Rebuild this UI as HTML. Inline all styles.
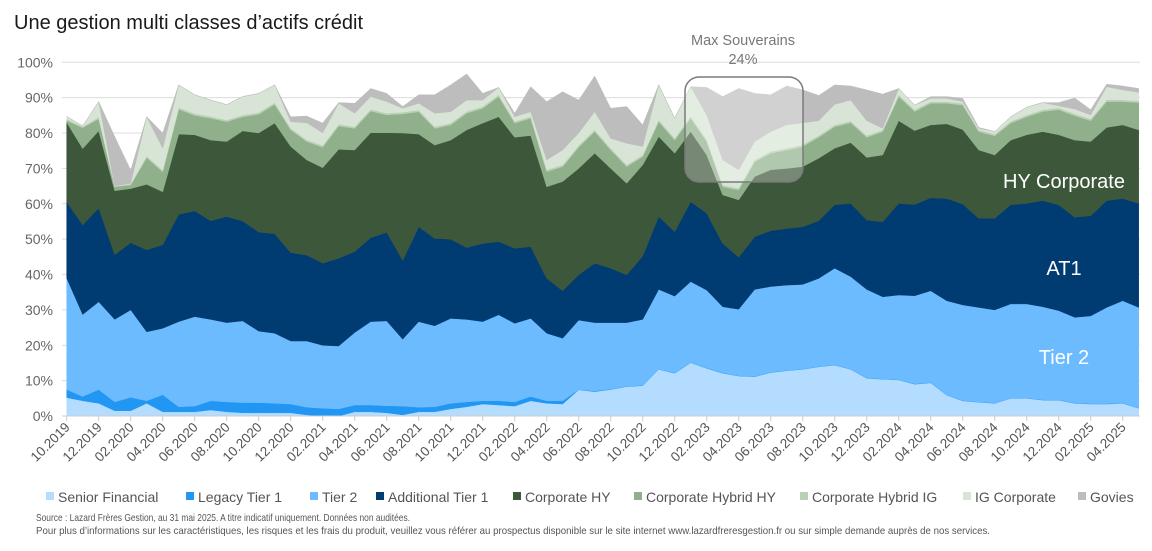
<!DOCTYPE html>
<html><head><meta charset="utf-8"><style>
body{margin:0;background:#fff;}
svg{display:block;font-family:"Liberation Sans",sans-serif;}
</style></head><body>
<svg id="chart" width="1152" height="551" viewBox="0 0 1152 551" xmlns="http://www.w3.org/2000/svg">
<text x="14" y="29" font-size="20" fill="#1a1a1a">Une gestion multi classes d’actifs crédit</text>
<g id="grid"></g>
<g id="areas"></g>
<g id="xaxis"></g>
<g id="ann"></g>
<g id="legend"></g>
<text x="36" y="521" font-size="10.5" fill="#555" textLength="374" lengthAdjust="spacingAndGlyphs">Source : Lazard Frères Gestion, au 31 mai 2025. A titre indicatif uniquement. Données non auditées.</text>
<text x="36" y="534" font-size="10.5" fill="#555" textLength="954" lengthAdjust="spacingAndGlyphs">Pour plus d’informations sur les caractéristiques, les risques et les frais du produit, veuillez vous référer au prospectus disponible sur le site internet www.lazardfreresgestion.fr ou sur simple demande auprès de nos services.</text>
</svg>
<script>
const months = [];
for (let y = 2019, m = 10; !(y === 2025 && m === 6); ) { months.push(String(m).padStart(2,'0') + '.' + y); m++; if (m > 12) { m = 1; y++; } }
const yTicks = [0,10,20,30,40,50,60,70,80,90,100];
const seniorFinancial = [5.2,4.3,3.6,1.5,1.5,3.6,1.2,1.2,1.2,1.7,1.2,0.9,0.9,0.9,0.9,0.3,0,0,1.2,1.2,0.9,0.3,1.2,1.2,2,2.6,3.4,3.1,2.8,4.3,3.6,3.4,7.4,6.9,7.5,8.3,8.6,13.2,12.1,15.1,13.5,12.1,11.3,11.1,12.3,12.8,13.2,13.9,14.4,13.2,10.7,10.4,10.2,9,9.4,5.9,4.3,3.9,3.6,5,5,4.5,4.5,3.6,3.4,3.4,3.6,2.2];
const legacyTier1 = [2.3,1.2,3.9,2.5,3.8,0.7,4.8,1.4,1.6,2.6,2.8,2.9,2.9,2.7,2.5,2.2,2.2,2,1.9,1.9,2,2.5,1.3,1.4,1.6,1.4,0.9,1.2,1.2,1.2,0.7,0.9,0.1,0.2,0.1,0.1,0.1,0.1,0.1,0.1,0.1,0.1,0.1,0.1,0.1,0.1,0.1,0.1,0.1,0.1,0.1,0.1,0.1,0.1,0.1,0.1,0.1,0.1,0.1,0.1,0.1,0.1,0.1,0.1,0.1,0.1,0.1,0.1];
const tier2 = [31.5,23.2,24.8,23.3,24.7,19.5,18.8,24.1,25.3,23,22.4,23.1,20.2,19.8,17.8,18.7,17.8,17.8,20.5,23.6,24,18.9,24.2,22.9,24,23.3,22.4,24.3,22.2,22.1,19.1,17.7,19.6,19.3,18.8,18,18.6,22.5,21.7,22.8,22,18.7,18.8,24.6,24.2,24.1,23.9,24.9,27.3,26.1,25,23.2,23.9,24.9,25.9,26.6,27,26.7,26.3,26.6,26.6,26.3,25.2,24.2,24.8,27.2,28.9,28.4];
const additionalTier1 = [21.5,25.3,26.5,18.3,19,23.2,23.6,30.3,29.9,27.9,30,28.2,28,28.1,25,24.3,23.2,24.8,22.9,23.7,25,22.3,26.8,24.7,22.4,20.3,22.1,20.7,21.2,20.3,15.5,13.4,12.8,16.8,15.4,13.5,17.9,20.6,18.2,22.6,21.7,17.9,14.7,14.9,15.8,16,16.3,16.3,17.9,20.7,19.6,21.2,25.9,25.8,26.3,28.9,28.5,25.2,25.9,28,28.4,30,29.9,28.3,28.3,30.2,28.9,29.4];
const corporateHY = [22.5,21.6,21.8,18.1,15.3,18.5,15,22.7,21.5,22.8,21.2,25.5,28,31.3,30,26.9,27,30.8,28.7,29.7,28.2,36,26.2,26.4,28,33.3,34,35.3,31.4,31.4,25.9,30.9,30.1,31.1,28.2,25.9,25.8,22.6,22.2,19.8,16.5,13.7,16.2,17,17.2,17,17,17.7,16,17.2,17.7,18.9,23.4,20.9,20.6,21.1,21.1,19.3,17.9,18.3,19.4,19.5,19.8,21.8,21,20.7,20.8,20.8];
const corporateHybridHY = [0.5,5.9,3.4,1.1,1,7.5,5.6,7,5.5,6.2,5.6,4,5.3,5.3,4.7,5.2,5.8,6.6,6.1,6.1,5,5.4,6.3,4.7,4.3,4.7,4.2,5.7,4,4.9,4.3,4.2,6,6.1,5.2,4.7,2.3,4.2,3.7,3.8,3.8,2.3,2.8,4.2,4.7,5.2,5.7,5.9,6.1,5.6,5.7,6.6,6.8,5.4,6.1,5.8,6.9,5.2,5.4,4.8,5.1,5.7,7.1,6.9,5.9,7.3,6.6,7.7];
const corporateHybridIG = [0.5,0.3,0.5,0.1,0.3,0.5,0.5,0.5,0.5,0.5,0.5,0.5,0.5,0.5,0.5,0.5,0.5,0.5,0.5,0.5,0.5,0.5,0.5,0.5,0.5,0.5,0.5,0.5,0.5,0.5,0.5,0.5,0.5,0.5,0.5,0.5,0.5,0.5,0.5,0.5,0.5,0.5,0.5,0.5,0.5,0.5,0.5,0.5,0.5,0.5,0.5,0.5,0.5,0.5,0.5,0.5,0.5,0.5,0.5,0.5,0.5,0.5,0.5,0.5,0.5,0.5,0.5,0.5];
const igCorporate = [0.7,0.2,4.4,0.1,0.2,11.1,6.2,6.4,5.3,4.6,4.3,5.2,5.4,5,1.8,4.8,3.5,5.9,3.8,3.6,3.3,1.1,1.9,3.8,3.2,3.2,1.8,2.1,1.3,1.3,2.8,4.2,3.5,5.1,2.8,6.1,2.4,9.9,5.7,8.4,7,7.1,5.2,5.2,5.6,6.6,6.2,4.2,5.8,5.9,4.2,0.4,1.8,1.3,0.9,0.9,0.5,0.4,0.7,1.3,2.2,2,0.6,1.4,1.1,3.7,2.8,2.4];
const govies = [0,0,0,14,3.7,0,4.3,0,0,0,0,0,0,0,1.4,1.9,2.8,0.2,2.8,2.3,2.3,0.5,2.4,5.2,7.6,7.4,1.9,0,1,7.1,16.5,16.5,9.3,10.1,8.5,10.4,6.1,0,0,0,7.8,17.9,23,13.6,10.4,11,9.3,7.1,5.5,4,8.7,9.7,0,0,0.5,0.5,0.9,0.3,0,0,0,0,0.9,3.1,1.5,0.7,1.1,1.1];
const seriesNames = ['Senior Financial','Legacy Tier 1','Tier 2','Additional Tier 1','Corporate HY','Corporate Hybrid HY','Corporate Hybrid IG','IG Corporate','Govies'];
const seriesColors = ['#b3dcff','#2196f3','#6dbbff','#003c71','#3d573a','#8fb08a','#b8d0b3','#d8e5d6','#bdbdbd'];
const seriesData = [seniorFinancial, legacyTier1, tier2, additionalTier1, corporateHY, corporateHybridHY, corporateHybridIG, igCorporate, govies];

const NS='http://www.w3.org/2000/svg';
const X0=66.7, X1=66.7+16*67, Y0=416, Y100=62.3;
const xScale = i => X0 + (X1-X0)*i/(months.length-1);
const yScale = v => Y0 - (Y0-Y100)*v/100;
function mk(tag, attrs, parent){const e=document.createElementNS(NS,tag);for(const k in attrs)e.setAttribute(k,attrs[k]);parent.appendChild(e);return e;}

const grid=document.getElementById('grid');
yTicks.forEach(t=>{
  const l=mk('line',{x1:62,x2:1140,y1:yScale(t),y2:yScale(t),stroke:'#dcdcdc','stroke-width':1},grid);
  
  
  const tx=mk('text',{x:53,y:yScale(t)+5,'text-anchor':'end','font-size':14,fill:'#666'},grid);
  tx.textContent=t+'%';
  
  
});

const areas=document.getElementById('areas');
let base=months.map(()=>0);
seriesData.forEach((s,k)=>{
  const top=base.map((b,i)=>b+s[i]);
  let d='M'+months.map((_,i)=>xScale(i).toFixed(1)+','+yScale(top[i]).toFixed(1)).join('L');
  for(let i=months.length-1;i>=0;i--) d+='L'+xScale(i).toFixed(1)+','+yScale(base[i]).toFixed(1);
  d+='Z';
  const p=mk('path',{d:d,fill:seriesColors[k],stroke:seriesColors[k],'stroke-width':0.5},areas);
  
  
  base=top;
});

const xa=document.getElementById('xaxis');
mk('line',{x1:62,x2:1140,y1:416,y2:416,stroke:'#ccc'},xa);
months.forEach((m,i)=>{
  if(i%2!==0) return;
  const x=xScale(i);
  mk('line',{x1:x,x2:x,y1:416,y2:421,stroke:'#ccc'},xa);
  const t=mk('text',{x:x+4,y:428,'text-anchor':'end','font-size':13.5,fill:'#555',transform:'rotate(-45 '+(x+4)+' 428)'},xa);
  t.textContent=m;
  
  
});

const ann=document.getElementById('ann');
const box=mk('rect',{x:685,y:77,width:118,height:105,rx:14,fill:'rgba(255,255,255,0.3)',stroke:'#7a7a7a','stroke-width':1.5},ann);


[['Max Souverains',45],['24%',64]].forEach(([s,y])=>{
  const t=mk('text',{x:743,y:y,'text-anchor':'middle','font-size':14.5,fill:'#777'},ann);t.textContent=s;
  
  
});
[['HY Corporate',1064,188,20],['AT1',1064,275,20],['Tier 2',1064,364,20]].forEach(([s,x,y,f])=>{
  const t=mk('text',{x:x,y:y,'text-anchor':'middle','font-size':f,fill:'#fff'},ann);t.textContent=s;
  
  
});

const lg=document.getElementById('legend');
const lx=[46,186,310,376,513,634,800,963,1078];
seriesNames.forEach((n,k)=>{
  const g=mk('g',{},lg);
  
  
  mk('rect',{x:lx[k],y:492,width:8,height:8,fill:seriesColors[k]},g);
  const t=mk('text',{x:lx[k]+12,y:502,'font-size':14,fill:'#555'},g);t.textContent=n;
});
</script>
</body></html>
